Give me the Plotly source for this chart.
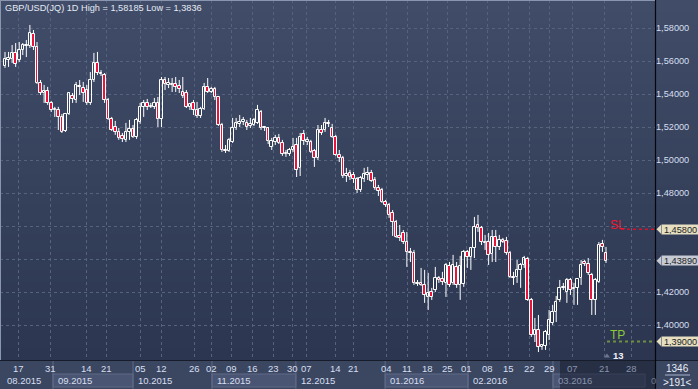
import plotly.graph_objects as go

# ---------------- data (GBP/USD daily) ----------------
opens = [
 1.5570, 1.5606, 1.5612, 1.5649, 1.5606, 1.5667, 1.5691, 1.5691, 1.5764, 1.5685,
 1.5467, 1.5406, 1.5418, 1.5346, 1.5303, 1.5303, 1.5261, 1.5176, 1.5279, 1.5388,
 1.5364, 1.5443, 1.5436, 1.5424, 1.5346, 1.5485, 1.5588, 1.5521, 1.5515, 1.5364,
 1.5249, 1.5200, 1.5170, 1.5146, 1.5122, 1.5170, 1.5188, 1.5140, 1.5231, 1.5322,
 1.5346, 1.5322, 1.5322, 1.5346, 1.5249, 1.5485, 1.5455, 1.5461, 1.5461, 1.5449,
 1.5412, 1.5406, 1.5322, 1.5346, 1.5303, 1.5267, 1.5309, 1.5443, 1.5412, 1.5430,
 1.5382, 1.5212, 1.5061, 1.5055, 1.5109, 1.5194, 1.5219, 1.5231, 1.5225, 1.5206,
 1.5212, 1.5225, 1.5291, 1.5194, 1.5194, 1.5079, 1.5109, 1.5134, 1.5103, 1.5037,
 1.5037, 1.5061, 1.5091, 1.4952, 1.5158, 1.5109, 1.5109, 1.5055, 1.5012, 1.5182,
 1.5182, 1.5225, 1.5194, 1.5140, 1.5031, 1.5012, 1.4903, 1.4922, 1.4909, 1.4885,
 1.4819, 1.4885, 1.4909, 1.4922, 1.4879, 1.4831, 1.4819, 1.4746, 1.4728, 1.4679,
 1.4625, 1.4540, 1.4558, 1.4503, 1.4443, 1.4437, 1.4249, 1.4255, 1.4243, 1.4170,
 1.4200, 1.4212, 1.4285, 1.4279, 1.4255, 1.4358, 1.4255, 1.4352, 1.4243, 1.4249,
 1.4443, 1.4413, 1.4467, 1.4606, 1.4588, 1.4497, 1.4503, 1.4431, 1.4534, 1.4473,
 1.4516, 1.4509, 1.4437, 1.4291, 1.4291, 1.4334, 1.4364, 1.4400, 1.4152, 1.3940,
 1.3970, 1.3867, 1.3873, 1.3940, 1.4012, 1.4079, 1.4152, 1.4225, 1.4200, 1.4273,
 1.4219, 1.4225, 1.4285, 1.4382, 1.4370, 1.4303, 1.4152, 1.4261, 1.4491, 1.4437,
]
highs = [
 1.5655, 1.5655, 1.5697, 1.5709, 1.5715, 1.5709, 1.5727, 1.58185, 1.5788, 1.5715,
 1.5485, 1.5455, 1.5443, 1.5358, 1.5322, 1.5322, 1.5279, 1.5285, 1.5412, 1.5406,
 1.5473, 1.5485, 1.5473, 1.5455, 1.5533, 1.5649, 1.5655, 1.5545, 1.5527, 1.5376,
 1.5261, 1.5237, 1.5194, 1.5164, 1.5225, 1.5243, 1.5212, 1.5255, 1.5346, 1.5364,
 1.5370, 1.5346, 1.5376, 1.5382, 1.5503, 1.5503, 1.5497, 1.5497, 1.5503, 1.5485,
 1.5503, 1.5424, 1.5346, 1.5364, 1.5352, 1.5322, 1.5467, 1.5497, 1.5443, 1.5443,
 1.5388, 1.5225, 1.5091, 1.5134, 1.5255, 1.5255, 1.5273, 1.5261, 1.5243, 1.5255,
 1.5255, 1.5334, 1.5303, 1.5206, 1.5200, 1.5134, 1.5152, 1.5158, 1.5122, 1.5061,
 1.5073, 1.5134, 1.5134, 1.5164, 1.5182, 1.5140, 1.5122, 1.5067, 1.5212, 1.5212,
 1.5255, 1.5243, 1.5219, 1.5152, 1.5061, 1.5025, 1.4952, 1.4940, 1.4928, 1.4897,
 1.4903, 1.4952, 1.4958, 1.4940, 1.4897, 1.4849, 1.4831, 1.4758, 1.4740, 1.4697,
 1.4637, 1.4606, 1.4576, 1.4564, 1.4467, 1.4455, 1.4273, 1.4346, 1.4334, 1.4316,
 1.4225, 1.4352, 1.4297, 1.4322, 1.4376, 1.4382, 1.4425, 1.4382, 1.4419, 1.4455,
 1.4455, 1.4473, 1.4655, 1.4667, 1.4600, 1.4546, 1.4558, 1.4576, 1.4576, 1.4546,
 1.4528, 1.4534, 1.4449, 1.4322, 1.4394, 1.4376, 1.4419, 1.4413, 1.4164, 1.4043,
 1.4061, 1.3885, 1.3970, 1.4091, 1.4122, 1.4176, 1.4273, 1.4255, 1.4285, 1.4285,
 1.4255, 1.4285, 1.4394, 1.4394, 1.4406, 1.4316, 1.4285, 1.4503, 1.4516, 1.4473,
]
lows = [
 1.5558, 1.5564, 1.5588, 1.5564, 1.5594, 1.5636, 1.5624, 1.5679, 1.5667, 1.5461,
 1.5394, 1.5346, 1.5334, 1.5291, 1.5261, 1.5182, 1.5164, 1.5170, 1.5273, 1.5346,
 1.5346, 1.5394, 1.5352, 1.5334, 1.5334, 1.5473, 1.5515, 1.5509, 1.5346, 1.5243,
 1.5176, 1.5152, 1.5122, 1.5109, 1.5109, 1.5122, 1.5134, 1.5128, 1.5219, 1.5261,
 1.5303, 1.5315, 1.5309, 1.5200, 1.5200, 1.5424, 1.5436, 1.5412, 1.5412, 1.5406,
 1.5376, 1.5315, 1.5303, 1.5273, 1.5255, 1.5255, 1.5303, 1.5406, 1.5406, 1.5364,
 1.5206, 1.5049, 1.5043, 1.5049, 1.5103, 1.5182, 1.5200, 1.5212, 1.5182, 1.5194,
 1.5206, 1.5219, 1.5182, 1.5176, 1.5097, 1.5061, 1.5091, 1.5097, 1.5025, 1.5019,
 1.5025, 1.5049, 1.4897, 1.4903, 1.5091, 1.5091, 1.5043, 1.4958, 1.5000, 1.5152,
 1.5170, 1.5200, 1.5134, 1.5025, 1.4988, 1.4891, 1.4867, 1.4879, 1.4861, 1.4800,
 1.4806, 1.4867, 1.4879, 1.4867, 1.4819, 1.4782, 1.4740, 1.4716, 1.4649, 1.4540,
 1.4528, 1.4509, 1.4491, 1.4352, 1.4382, 1.4243, 1.4237, 1.4237, 1.4134, 1.4091,
 1.4152, 1.4200, 1.4255, 1.4243, 1.4170, 1.4231, 1.4243, 1.4225, 1.4152, 1.4231,
 1.4346, 1.4334, 1.4406, 1.4564, 1.4485, 1.4455, 1.4364, 1.4382, 1.4382, 1.4455,
 1.4497, 1.4425, 1.4285, 1.4243, 1.4255, 1.4225, 1.4346, 1.4146, 1.3928, 1.3897,
 1.3836, 1.3849, 1.3849, 1.3909, 1.4000, 1.4018, 1.4140, 1.4212, 1.4134, 1.4182,
 1.4122, 1.4122, 1.4243, 1.4358, 1.4303, 1.4061, 1.4061, 1.4255, 1.4443, 1.4376,
]
closes = [
 1.5612, 1.5618, 1.5649, 1.5582, 1.5667, 1.5697, 1.5697, 1.5770, 1.5685, 1.5467,
 1.5406, 1.5418, 1.5346, 1.5303, 1.5309, 1.5261, 1.5170, 1.5279, 1.5406, 1.5370,
 1.5455, 1.5449, 1.5406, 1.5346, 1.5485, 1.5588, 1.5527, 1.5527, 1.5364, 1.5249,
 1.5182, 1.5170, 1.5134, 1.5128, 1.5170, 1.5188, 1.5140, 1.5243, 1.5322, 1.5346,
 1.5322, 1.5328, 1.5346, 1.5249, 1.5485, 1.5461, 1.5467, 1.5455, 1.5443, 1.5430,
 1.5388, 1.5322, 1.5340, 1.5303, 1.5267, 1.5309, 1.5443, 1.5412, 1.5430, 1.5382,
 1.5212, 1.5061, 1.5055, 1.5122, 1.5194, 1.5225, 1.5231, 1.5243, 1.5200, 1.5219,
 1.5243, 1.5303, 1.5194, 1.5200, 1.5115, 1.5115, 1.5134, 1.5103, 1.5037, 1.5043,
 1.5061, 1.5079, 1.4940, 1.5140, 1.5115, 1.5122, 1.5049, 1.5012, 1.5182, 1.5164,
 1.5225, 1.5219, 1.5140, 1.5031, 1.5012, 1.4903, 1.4916, 1.4897, 1.4885, 1.4819,
 1.4891, 1.4916, 1.4922, 1.4873, 1.4831, 1.4813, 1.4746, 1.4728, 1.4667, 1.4625,
 1.4534, 1.4528, 1.4503, 1.4443, 1.4437, 1.4255, 1.4255, 1.4243, 1.4182, 1.4194,
 1.4170, 1.4285, 1.4273, 1.4261, 1.4364, 1.4243, 1.4364, 1.4243, 1.4358, 1.4443,
 1.4413, 1.4467, 1.4594, 1.4588, 1.4503, 1.4503, 1.4425, 1.4534, 1.4473, 1.4516,
 1.4503, 1.4437, 1.4291, 1.4285, 1.4334, 1.4364, 1.4406, 1.4152, 1.3940, 1.3970,
 1.3867, 1.3879, 1.3958, 1.4031, 1.4079, 1.4140, 1.4225, 1.4231, 1.4273, 1.4212,
 1.4225, 1.4279, 1.4364, 1.4370, 1.4316, 1.4152, 1.4273, 1.4485, 1.4473, 1.4389,
]

# time scale labels (bar positions) and month blocks
day_pos = [3.7, 12.7, 22.8, 28.4, 38.0, 43.9, 53.2, 58.2, 63.8, 69.7, 75.4, 80.8, 84.7,
           92.8, 97.9, 107.4, 113.1, 118.7, 124.3, 129.9, 135.8, 141.7, 147.6, 153.0,
           159.5, 168.7, 176.3]
day_text = ["17", "31", "14", "21", "05", "12", "26", "02", "09", "16", "23", "30", "07",
            "14", "21", "04", "11", "18", "25", "01", "08", "15", "22", "29",
            "07", "21", "28"]
month_start = [-1.4, 13.5, 36.0, 58.2, 81.8, 106.9, 130.2, 154.1]
month_text = ["08.2015", "09.2015", "10.2015", "11.2015", "12.2015", "01.2016", "02.2016", "03.2016"]
price_ticks = [1.40, 1.42, 1.44, 1.46, 1.48, 1.50, 1.52, 1.54, 1.56, 1.58]
# 1.44 and 1.46 labels are covered by the price tags in the original
price_text = ["1,40000", "1,42000", "", "", "1,48000", "1,50000",
              "1,52000", "1,54000", "1,56000", "1,58000"]
sl_level, tp_level, last_price = 1.4580, 1.3900, 1.4389
tag_text = ["1,45800", "1,43890", "1,39000"]
header = "GBP/USD(JQ) 1D High = 1,58185 Low = 1,3836"

# ---------------- layout geometry ----------------
W, H = 698, 389
PLOT_R, PLOT_B = 655, 360
N = len(closes)
pitch = 601 / 169.0
X_LEFT = -5 / pitch
X_RIGHT = (N - 1) + (PLOT_R - 606) / pitch
Y_TOP, Y_BOT = 1.59697, 1.37879
FONT = "Liberation Sans"
TXT = "#d6dff0"
DIM = "#8793ab"
RED = "#e8143c"


def px(x):
    return x / W


def py(y):
    return 1 - y / H


def pr(dy):  # pixel height -> price units
    return dy * (Y_TOP - Y_BOT) / PLOT_B


idx = list(range(N))
fig = go.Figure()

# wicks (outside the bodies)
wx, wy = [], []
for i, (o, h, l, c) in enumerate(zip(opens, highs, lows, closes)):
    top, bot = max(o, c), min(o, c)
    wx += [i, i, None, i, i, None]
    wy += [max(h, top), top, None, bot, min(l, bot), None]
fig.add_trace(go.Scatter(x=wx, y=wy, mode="lines", line=dict(color="white", width=1),
                         hoverinfo="skip"))

# bodies
base = [min(o, c) for o, c in zip(opens, closes)]
hgt = [max(abs(c - o), pr(0.3)) for o, c in zip(opens, closes)]
cols = [RED if c < o else "rgba(0,0,0,0)" for o, c in zip(opens, closes)]
fig.add_trace(go.Bar(x=idx, y=hgt, base=base, width=0.72,
                     marker=dict(color=cols, line=dict(color="white", width=1)),
                     hoverinfo="skip"))

shapes = []
# background gradient of chart + price panel
nb = 60
for k in range(nb):
    t = k / (nb - 1)
    r = round(64 + (44 - 64) * t)
    g = round(76 + (54 - 76) * t)
    b = round(104 + (80 - 104) * t)
    y0 = PLOT_B * k / nb
    y1 = PLOT_B * (k + 1) / nb + 0.6
    shapes.append(dict(type="rect", xref="paper", yref="paper", x0=0, x1=1,
                       y0=py(y1), y1=py(y0), fillcolor=f"rgb({r},{g},{b})",
                       line=dict(width=0), layer="below"))
# bottom time panel
shapes.append(dict(type="rect", xref="paper", yref="paper", x0=0, x1=1, y0=0, y1=py(PLOT_B),
                   fillcolor="#3b4661", line=dict(width=0), layer="below"))
for i in range(1, len(month_start), 2):
    x1 = month_start[i + 1] if i + 1 < len(month_start) else 180
    shapes.append(dict(type="rect", xref="x", yref="paper", x0=month_start[i], x1=x1,
                       y0=py(387), y1=py(374), fillcolor="#4a5573",
                       line=dict(color="#5f6a88", width=1), layer="above"))
for ms in month_start[1:]:
    shapes.append(dict(type="line", xref="x", yref="paper", x0=ms, x1=ms, y0=py(389), y1=py(PLOT_B),
                       line=dict(color="#5f6a88", width=1), layer="above"))
# dimmed scroll area in time panel
shapes.append(dict(type="rect", xref="paper", yref="paper", x0=px(560), x1=px(PLOT_R), y0=0,
                   y1=py(PLOT_B), fillcolor="rgba(24,30,48,0.55)", line=dict(width=0), layer="above"))
# frame lines
shapes.append(dict(type="line", xref="paper", yref="paper", x0=0, x1=1, y0=py(PLOT_B + 0.5), y1=py(PLOT_B + 0.5),
                   line=dict(color="#161c2a", width=1), layer="above"))
shapes.append(dict(type="line", xref="paper", yref="paper", x0=px(PLOT_R + 0.5), x1=px(PLOT_R + 0.5), y0=0, y1=1,
                   line=dict(color="#05070c", width=1.2), layer="above"))
shapes.append(dict(type="line", xref="paper", yref="paper", x0=0, x1=px(PLOT_R), y0=py(0.5), y1=py(0.5),
                   line=dict(color="#8a96b0", width=1), layer="above"))
shapes.append(dict(type="line", xref="paper", yref="paper", x0=px(0.5), x1=px(0.5), y0=py(PLOT_B), y1=1,
                   line=dict(color="#8a96b0", width=1), layer="above"))
# counter box separator
shapes.append(dict(type="line", xref="paper", yref="paper", x0=px(665), x1=px(690), y0=py(375), y1=py(375),
                   line=dict(color="#a8b4cc", width=1), layer="above"))
# SL / TP dotted lines
shapes.append(dict(type="line", xref="paper", yref="y", x0=px(621), x1=px(PLOT_R), y0=sl_level, y1=sl_level,
                   line=dict(color="#d8102c", width=1.5, dash="dot"), layer="above"))
shapes.append(dict(type="line", xref="paper", yref="y", x0=px(607), x1=px(PLOT_R), y0=tp_level, y1=tp_level,
                   line=dict(color="#6f9040", width=2, dash="dot"), layer="above"))
# price tag arrows
tags = [(sl_level, "#e6dfc2"), (last_price, "#c6cad4"), (tp_level, "#e6dfc2")]
for lvl, colr in tags:
    shapes.append(dict(type="path", xref="paper", yref="y",
                       path=f"M {px(656.5)},{lvl} L {px(661)},{lvl + pr(4.5)} L {px(661)},{lvl - pr(4.5)} Z",
                       fillcolor=colr, line=dict(width=0), layer="above"))
# small marker near the bottom
shapes.append(dict(type="path", xref="paper", yref="paper",
                   path=f"M {px(604)},{py(357.5)} L {px(610)},{py(357.5)} L {px(607)},{py(353.5)} Z",
                   fillcolor="#6c7690", line=dict(width=0), layer="above"))

ann = []
ann.append(dict(text=header, xref="paper", yref="paper", x=px(3), y=py(8), xanchor="left",
                yanchor="middle", showarrow=False, font=dict(family=FONT, size=9.2, color="#e4eaf4")))
for pos, t in zip(day_pos, day_text):
    dim = pos > month_start[-1] + 1.5
    ann.append(dict(text=t, xref="x", yref="paper", x=pos, y=py(368.5), xanchor="center",
                    yanchor="middle", showarrow=False,
                    font=dict(family=FONT, size=9.5, color=DIM if dim else TXT)))
for ms, t in zip(month_start, month_text):
    dim = ms >= month_start[-1]
    ann.append(dict(text=t, xref="x", yref="paper", x=max(ms, -1.0) + 0.9, y=py(380), xanchor="left",
                    yanchor="middle", showarrow=False,
                    font=dict(family=FONT, size=9.5, color=DIM if dim else TXT)))
ann.append(dict(text="0", xref="paper", yref="paper", x=px(649), y=py(380), xanchor="left",
                yanchor="middle", showarrow=False, font=dict(family=FONT, size=9.5, color="#6d7890")))
for (lvl, colr), t in zip(tags, tag_text):
    ann.append(dict(text=t, xref="paper", yref="y", x=px(660.5), y=lvl,
                    xanchor="left", yanchor="middle", showarrow=False, bgcolor=colr, borderpad=0,
                    width=37, height=9, align="center",
                    font=dict(family=FONT, size=9.2, color="#1e1e1e")))
ann.append(dict(text="SL", xref="paper", yref="y", x=px(608), y=sl_level + pr(4.5), xanchor="left",
                yanchor="middle", showarrow=False, font=dict(family=FONT, size=12, color="#f01830")))
ann.append(dict(text="TP", xref="paper", yref="y", x=px(608), y=tp_level + pr(6.5), xanchor="left",
                yanchor="middle", showarrow=False, font=dict(family=FONT, size=12, color="#8cc83c")))
ann.append(dict(text="<b>13</b>", xref="paper", yref="paper", x=px(618.5), y=py(355), xanchor="center",
                yanchor="middle", showarrow=False, font=dict(family=FONT, size=9.5, color="#eef2f8")))
ann.append(dict(text="1346", xref="paper", yref="paper", x=px(677), y=py(368), xanchor="center",
                yanchor="middle", showarrow=False, font=dict(family=FONT, size=10, color="#e8eef8")))
ann.append(dict(text="&gt;191&lt;", xref="paper", yref="paper", x=px(677), y=py(382), xanchor="center",
                yanchor="middle", showarrow=False, font=dict(family=FONT, size=10, color="#e8eef8")))

fig.update_layout(
    width=W, height=H, margin=dict(l=0, r=0, t=0, b=0, pad=0),
    paper_bgcolor="#2f3953", plot_bgcolor="rgba(0,0,0,0)",
    showlegend=False, hovermode=False, bargap=0,
    shapes=shapes, annotations=ann,
    xaxis=dict(domain=[0, px(PLOT_R)], range=[X_LEFT, X_RIGHT], showticklabels=False,
               tickmode="array", tickvals=day_pos, ticks="", showgrid=True,
               gridcolor="#56637f", griddash="3px,3px", gridwidth=1, zeroline=False,
               showline=False, fixedrange=True),
    yaxis=dict(domain=[py(PLOT_B), 1], range=[Y_BOT, Y_TOP], side="right",
               tickmode="array", tickvals=price_ticks, ticktext=price_text, ticks="",
               ticklabelstandoff=0, automargin=False,
               tickfont=dict(family=FONT, size=9.2, color=TXT), showgrid=True,
               gridcolor="#56637f", griddash="3px,3px", gridwidth=1, zeroline=False,
               showline=False, fixedrange=True),
)
fig.write_html("out.html")
